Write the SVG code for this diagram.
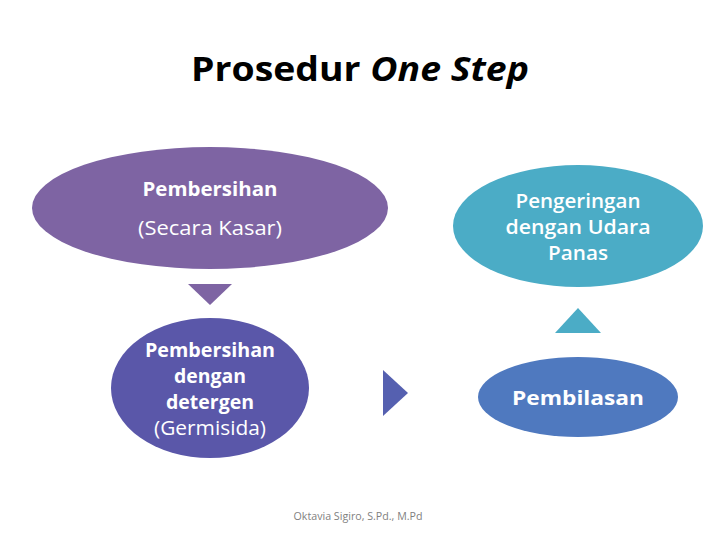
<svg xmlns="http://www.w3.org/2000/svg" width="720" height="540" viewBox="0 0 720 540">
<style>
text{font-family:"Open Sans","Noto Sans","DejaVu Sans",sans-serif;text-anchor:middle}
.w{fill:#ffffff;font-size:20px}
.b{font-weight:bold}
.s{font-weight:600}
.r{font-weight:normal}
</style>
<rect width="720" height="540" fill="#ffffff"/>
<text x="360" y="81" font-size="34" font-weight="bold" fill="#000000" textLength="338" lengthAdjust="spacingAndGlyphs">Prosedur <tspan font-style="italic">One Step</tspan></text>
<g id="connectors">
<polygon points="188,284 232,284 210,305" fill="#7E64A3"/>
<polygon points="383,370 408,393 383,416" fill="#5560B0"/>
<polygon points="555,333 578,308 601,333" fill="#4BACC6"/>
</g>
<g id="node-pembersihan-kasar">
<ellipse cx="210" cy="208" rx="178" ry="61" fill="#7E64A3"/>
<text class="w b" x="210" y="196" textLength="135" lengthAdjust="spacingAndGlyphs">Pembersihan</text>
<text class="w r" x="210" y="235" textLength="144" lengthAdjust="spacingAndGlyphs">(Secara Kasar)</text>
</g>
<g id="node-pengeringan">
<ellipse cx="578" cy="226" rx="125" ry="61" fill="#4BACC6"/>
<text class="w s" x="578" y="208" textLength="125" lengthAdjust="spacingAndGlyphs">Pengeringan</text>
<text class="w s" x="578" y="234" textLength="145" lengthAdjust="spacingAndGlyphs">dengan Udara</text>
<text class="w s" x="578" y="260" textLength="60" lengthAdjust="spacingAndGlyphs">Panas</text>
</g>
<g id="node-pembersihan-detergen">
<ellipse cx="210" cy="388" rx="99" ry="70" fill="#5A57A9"/>
<text class="w b" x="210" y="357" textLength="130" lengthAdjust="spacingAndGlyphs">Pembersihan</text>
<text class="w b" x="210" y="383" textLength="72" lengthAdjust="spacingAndGlyphs">dengan</text>
<text class="w b" x="210" y="409" textLength="88" lengthAdjust="spacingAndGlyphs">detergen</text>
<text class="w r" x="210" y="435" textLength="112" lengthAdjust="spacingAndGlyphs">(Germisida)</text>
</g>
<g id="node-pembilasan">
<ellipse cx="578" cy="397" rx="100" ry="40" fill="#4F79BF"/>
<text class="w b" x="578" y="405" font-size="22" textLength="132" lengthAdjust="spacingAndGlyphs">Pembilasan</text>
</g>
<text x="358" y="520" font-size="11" fill="#7f7f7f" textLength="129" lengthAdjust="spacingAndGlyphs">Oktavia Sigiro, S.Pd., M.Pd</text>
</svg>
